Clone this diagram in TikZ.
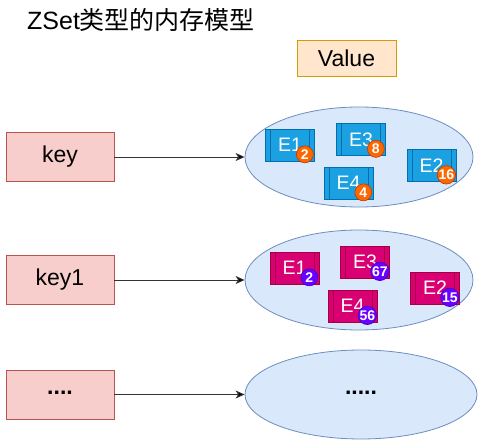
\documentclass[tikz,border=0pt]{standalone}
\usepackage{fontspec}
\setmainfont{Liberation Sans}
\newfontfamily\cjk{Noto Sans CJK SC}
\usetikzlibrary{arrows.meta,shapes.geometric}
\definecolor{keyfill}{HTML}{F8CECC}
\definecolor{keydraw}{HTML}{B85450}
\definecolor{valfill}{HTML}{FFE6CC}
\definecolor{valdraw}{HTML}{D79B00}
\definecolor{elfill}{HTML}{DAE8FC}
\definecolor{eldraw}{HTML}{6C8EBF}
\definecolor{bluefill}{HTML}{1BA1E2}
\definecolor{bluedraw}{HTML}{006EAF}
\definecolor{redfill}{HTML}{D80073}
\definecolor{reddraw}{HTML}{A50040}
\definecolor{orfill}{HTML}{FA6800}
\definecolor{ordraw}{HTML}{C73500}
\definecolor{pufill}{HTML}{6A00FF}
\definecolor{pudraw}{HTML}{3700CC}
\definecolor{arrowgray}{HTML}{333333}
\tikzset{
  keybox/.style={draw=keydraw, fill=keyfill, line width=0.8pt, minimum width=108pt, minimum height=49pt, inner sep=0pt, font=\fontsize{23}{28}\selectfont},
  valbox/.style={draw=valdraw, fill=valfill, line width=0.8pt, minimum width=99pt, minimum height=36pt, inner sep=0pt, font=\fontsize{23}{28}\selectfont},
  setell/.style={ellipse, draw=eldraw, fill=elfill, line width=0.8pt, inner sep=0pt},
  elem/.style={minimum width=49pt, minimum height=32pt, inner sep=0pt, text=white, line width=0.7pt, font=\fontsize{19.5}{22}\selectfont,
    path picture={\draw[line width=0.6pt,#1]
      ([xshift=5pt]path picture bounding box.north west) -- ([xshift=5pt]path picture bounding box.south west)
      ([xshift=-5pt]path picture bounding box.north east) -- ([xshift=-5pt]path picture bounding box.south east);}},
  blueel/.style={elem=bluedraw, fill=bluefill, draw=bluedraw},
  redel/.style={elem=reddraw, fill=redfill, draw=reddraw},
  badge/.style={circle, minimum size=17pt, inner sep=0pt, text=white, line width=0.6pt, font=\bfseries\fontsize{14}{14}\selectfont},
  orbadge/.style={badge, fill=orfill, draw=ordraw},
  pubadge/.style={badge, fill=pufill, draw=pudraw},
  arr/.style={draw=arrowgray, line width=0.9pt, -{Stealth[length=9pt,width=8pt,inset=2.5pt,fill=black]}},
}
\newcommand\zelem[6]{%
  \node[#4] (#1) at (#2) {#3};
  \node[#6] (#1b) at ([xshift=-10pt,yshift=7pt]#1.south east) {#5};
}
\begin{document}
\begin{tikzpicture}[x=1pt,y=-1pt]
\useasboundingbox (0,0) rectangle (490,446);
\node[anchor=west, inner sep=0pt, font=\fontsize{25}{30}\selectfont] (title) at (27,20) {ZSet{\cjk 类型的内存模型}};
\node[valbox] (value) at (346.5,58) {Value};

\node[keybox] (k1) at (60,157) {key};
\node[keybox] (k2) at (60,280) {key1};
\node[keybox] (k3) at (60,394.5) {\rule[-10pt]{0pt}{20pt}\textbf{....}};

\node[setell, minimum width=228pt, minimum height=100pt] (v1) at (359,157) {};
\node[setell, minimum width=228pt, minimum height=100pt] (v2) at (359,280) {};
\node[setell, minimum width=232pt, minimum height=89pt, font=\fontsize{23}{28}\selectfont] (v3) at (361,394.5) {\rule[-10pt]{0pt}{20pt}\textbf{.....}};

\draw[arr] (k1) -- (v1);
\draw[arr] (k2) -- (v2);
\draw[arr] (k3) -- (v3);

\zelem{a1}{290,145}{E1}{blueel}{2}{orbadge}
\zelem{a3}{361,139.5}{E3}{blueel}{8}{orbadge}
\zelem{a2}{431.5,165.5}{E2}{blueel}{16}{orbadge}
\zelem{a4}{348.5,183}{E4}{blueel}{4}{orbadge}

\zelem{b1}{294.5,268}{E1}{redel}{2}{pubadge}
\zelem{b3}{365,262}{E3}{redel}{67}{pubadge}
\zelem{b2}{435,288}{E2}{redel}{15}{pubadge}
\zelem{b4}{352.5,306}{E4}{redel}{56}{pubadge}
\end{tikzpicture}
\end{document}
